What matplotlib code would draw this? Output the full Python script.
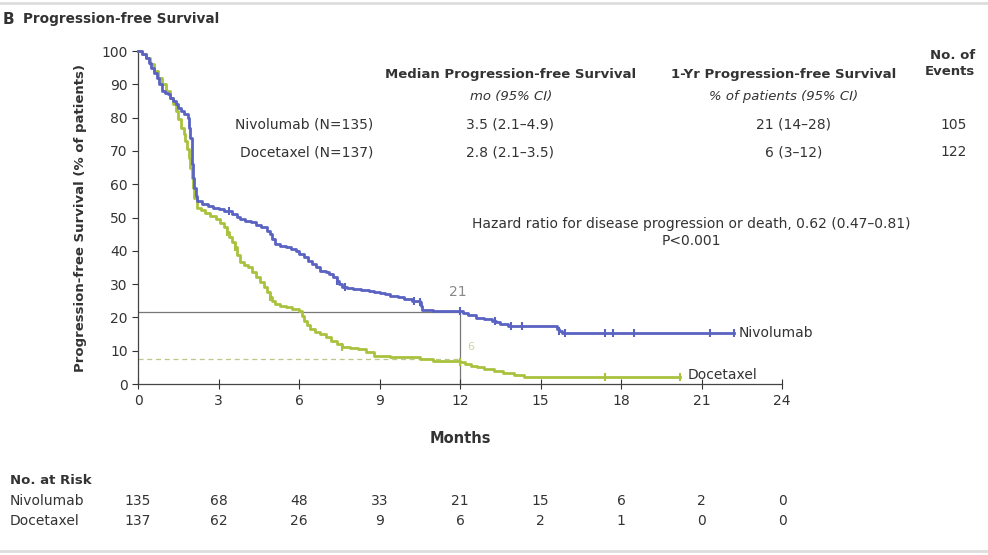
import numpy as np
import matplotlib.pyplot as plt
from matplotlib.transforms import blended_transform_factory

plt.rcParams['font.family'] = ['DejaVu Sans']

# Kaplan-Meier steps (month, % progression-free after the drop)
nivo_t = [0, 0.15, 0.3, 0.4, 0.5, 0.6, 0.7, 0.8, 0.9, 1.0, 1.1, 1.2, 1.3, 1.4, 1.5, 1.6, 1.7,
          1.85, 1.9, 1.95, 2.0, 2.03, 2.06, 2.1, 2.15, 2.2, 2.4, 2.6, 2.8, 3.0, 3.2, 3.5, 3.7,
          3.8, 4.0, 4.2, 4.4, 4.6, 4.8, 4.9, 5.0, 5.1, 5.3, 5.5, 5.7, 5.9, 6.0, 6.2, 6.35,
          6.5, 6.65, 6.8, 7.0, 7.1, 7.25, 7.4, 7.5, 7.6, 7.8, 8.0, 8.3, 8.6, 8.8, 9.0, 9.2,
          9.4, 9.7, 9.9, 10.2, 10.5, 10.55, 10.6, 11.0, 11.5, 12.1, 12.3, 12.6, 12.9, 13.2,
          13.35, 13.5, 13.8, 15.6, 15.7, 15.8, 22.2]
nivo_s = [100, 99, 98, 96.5, 95, 93.5, 92, 90, 88, 87.5, 87, 86, 85, 84, 83, 82, 81,
          80, 77, 74, 70, 66, 62, 59, 56.5, 55, 54, 53.5, 53, 52.5, 52, 51, 50.2,
          49.5, 49, 48.5, 47.8, 47, 46, 45, 43.5, 42, 41.5, 41, 40.5, 40, 39, 38, 37,
          36, 35, 34, 33.5, 33, 32, 31, 30, 29, 28.8, 28.5, 28.2, 28, 27.6, 27.3, 26.9,
          26.5, 26, 25.5, 25, 24.5, 23.4, 22.3, 22, 21.8, 21.2, 20.7, 19.8, 19.4, 19,
          18.5, 18, 17.4, 16.5, 15.9, 15.3, 15.3]
nivo_cens = [3.4, 7.4, 7.7, 10.3, 10.5, 12.0, 13.3, 13.9, 14.3, 15.7, 15.9, 17.4, 17.7, 18.5, 21.3, 22.2]

doc_t = [0, 0.15, 0.3, 0.45, 0.6, 0.75, 0.9, 1.05, 1.2, 1.3, 1.4, 1.5, 1.6, 1.7, 1.75, 1.82,
         1.9, 1.95, 2.0, 2.05, 2.1, 2.2, 2.35, 2.5, 2.7, 2.9, 3.05, 3.2, 3.3, 3.4, 3.5, 3.6,
         3.7, 3.8, 3.95, 4.1, 4.25, 4.4, 4.55, 4.7, 4.8, 4.9, 5.0, 5.1, 5.3, 5.5, 5.75, 6.0,
         6.1, 6.2, 6.3, 6.4, 6.6, 6.8, 7.0, 7.2, 7.4, 7.6, 7.9, 8.2, 8.5, 8.8, 9.4, 10.0,
         10.5, 11.0, 11.5, 12.0, 12.2, 12.4, 12.65, 12.9, 13.25, 13.6, 14.0, 14.4, 20.2]
doc_s = [100, 99, 98, 96, 94, 92, 90, 88, 86, 84, 82, 79.5, 77, 75, 73, 70.5,
         68, 65, 62, 59, 56, 53, 52.3, 51.5, 50.5, 49.5, 48.2, 47, 45.5, 44, 42.5, 41,
         38.8, 36.5, 35.8, 35, 33.5, 32, 30.5, 29, 27.5, 26, 25, 24, 23.5, 23, 22.4, 21.8,
         20.4, 19, 17.7, 16.5, 15.7, 15, 14, 13, 12, 11, 10.7, 10.5, 9.5, 8.5, 8.2, 8,
         7.5, 7, 6.8, 6.5, 6, 5.5, 5, 4.4, 3.9, 3.3, 2.8, 2.2, 2.2]
doc_cens = [3.3, 3.6, 4.9, 7.6, 12.0, 17.4, 20.2]

months_ticks = [0, 3, 6, 9, 12, 15, 18, 21, 24]
risk_nivo = [135, 68, 48, 33, 21, 15, 6, 2, 0]
risk_doc = [137, 62, 26, 9, 6, 2, 1, 0, 0]

blue = '#5a62c2'
green = '#a9c23e'
txt = '#333333'

fig = plt.figure(figsize=(9.88, 5.55), dpi=100)
ax = fig.add_axes([0.1397, 0.3081, 0.6518, 0.6])

def km_value(t, s, x):
    idx = np.searchsorted(t, x, side='right') - 1
    return np.array(s)[idx]

# reference lines at 12 months
ax.plot([0, 12], [21.6, 21.6], color='#777777', lw=0.9, zorder=1)
ax.plot([12, 12], [0, 21.6], color='#777777', lw=0.9, zorder=1)
ax.plot([0, 12], [7.5, 7.5], color='#b8c98a', lw=0.9, ls=(0, (4, 3)), zorder=1)
ax.text(11.9, 25.5, '21', ha='center', va='bottom', fontsize=10, color='#888888')
ax.text(12.4, 9.5, '6', ha='center', va='bottom', fontsize=8, color='#c8d6a0')

ax.step(doc_t, doc_s, where='post', color=green, lw=2, clip_on=False, zorder=3)
ax.step(nivo_t, nivo_s, where='post', color=blue, lw=2, clip_on=False, zorder=4)
ax.plot(doc_cens, km_value(doc_t, doc_s, doc_cens), ls='none', marker='|', ms=6,
        mew=1.5, color=green, zorder=5)
ax.plot(nivo_cens, km_value(nivo_t, nivo_s, nivo_cens), ls='none', marker='|', ms=6,
        mew=1.5, color=blue, zorder=5)

ax.text(22.4, 15.3, 'Nivolumab', va='center', ha='left', fontsize=10, color=txt)
ax.text(20.5, 2.8, 'Docetaxel', va='center', ha='left', fontsize=10, color=txt)

ax.set_xlim(0, 24)
ax.set_ylim(0, 100)
ax.set_xticks(months_ticks)
ax.set_yticks(range(0, 101, 10))
ax.tick_params(axis='both', labelsize=10, colors=txt, length=4, width=0.8)
ax.tick_params(axis='x', direction='inout', length=7)
for side in ['top', 'right']:
    ax.spines[side].set_visible(False)
for side in ['left', 'bottom']:
    ax.spines[side].set_color('#444444')
    ax.spines[side].set_linewidth(0.9)
ax.set_xlabel('Months', fontsize=10.5, fontweight='bold', color=txt, labelpad=17)
ax.set_ylabel('Progression-free Survival (% of patients)', fontsize=9.5, fontweight='bold',
              color=txt, labelpad=10)

# summary table
fig.text(0.003, 0.965, 'B', fontsize=11, fontweight='bold', color=txt, va='center')
fig.text(0.023, 0.965, 'Progression-free Survival', fontsize=9.8, fontweight='bold',
         color=txt, va='center')
fig.text(0.517, 0.865, 'Median Progression-free Survival', fontsize=9.5, fontweight='bold',
         color=txt, ha='center', va='center')
fig.text(0.517, 0.827, 'mo (95% CI)', fontsize=9.5, style='italic', color=txt,
         ha='center', va='center')
fig.text(0.793, 0.865, '1-Yr Progression-free Survival', fontsize=9.5, fontweight='bold',
         color=txt, ha='center', va='center')
fig.text(0.793, 0.827, '% of patients (95% CI)', fontsize=9.5, style='italic', color=txt,
         ha='center', va='center')
fig.text(0.987, 0.885, 'No. of\nEvents', fontsize=9.5, fontweight='bold', color=txt,
         ha='right', va='center', linespacing=1.3)

rows = [('Nivolumab (N=135)', '3.5 (2.1\u20134.9)', '21 (14\u201328)', '105'),
        ('Docetaxel (N=137)', '2.8 (2.1\u20133.5)', '6 (3\u201312)', '122')]
for i, (name, med, yr, ev) in enumerate(rows):
    y = 0.775 - i * 0.049
    fig.text(0.378, y, name, fontsize=10, color=txt, ha='right', va='center')
    fig.text(0.516, y, med, fontsize=10, color=txt, ha='center', va='center')
    fig.text(0.803, y, yr, fontsize=10, color=txt, ha='center', va='center')
    fig.text(0.965, y, ev, fontsize=10, color=txt, ha='center', va='center')

fig.text(0.70, 0.597, 'Hazard ratio for disease progression or death, 0.62 (0.47\u20130.81)',
         fontsize=10, color=txt, ha='center', va='center')
fig.text(0.70, 0.566, 'P<0.001', fontsize=10, color=txt, ha='center', va='center')

# number at risk
trans = blended_transform_factory(ax.transData, fig.transFigure)
fig.text(0.010, 0.135, 'No. at Risk', fontsize=9.5, fontweight='bold', color=txt, va='center')
fig.text(0.010, 0.098, 'Nivolumab', fontsize=10, color=txt, va='center')
fig.text(0.010, 0.062, 'Docetaxel', fontsize=10, color=txt, va='center')
for m, a, b in zip(months_ticks, risk_nivo, risk_doc):
    ax.text(m, 0.098, str(a), transform=trans, fontsize=10, color=txt, ha='center', va='center')
    ax.text(m, 0.062, str(b), transform=trans, fontsize=10, color=txt, ha='center', va='center')

# faint frame lines at top and bottom of the panel
fig.add_artist(plt.Line2D([0, 1], [0.995, 0.995], color='#dddddd', lw=2))
fig.add_artist(plt.Line2D([0, 1], [0.008, 0.008], color='#dddddd', lw=2))

fig.savefig('out.png', dpi=100, facecolor='white')
